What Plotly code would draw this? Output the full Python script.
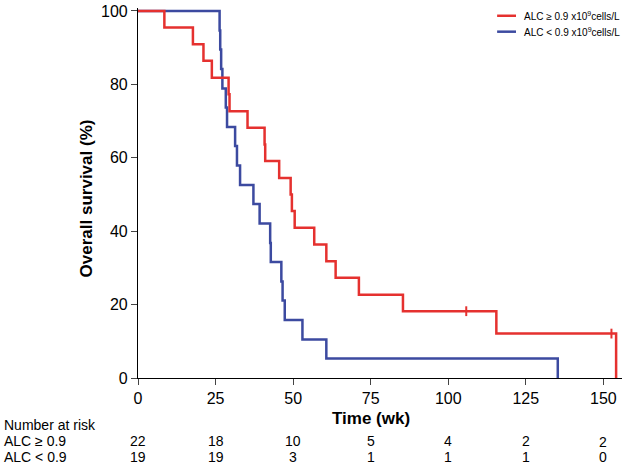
import plotly.graph_objects as go

# Kaplan-Meier steps (time in weeks, survival in %)
red_t = [0, 8.5, 17.7, 21.1, 23.8, 29.2, 29.5, 35.3, 40.8, 41.0, 45.5, 49.2, 49.6, 50.5,
         56.8, 60.7, 63.7, 71.2, 85.4, 115.5, 154.1]
red_s = [100, 95.5, 90.9, 86.4, 81.8, 77.3, 72.7, 68.2, 63.6, 59.1, 54.5, 50.0, 45.5, 40.9,
         36.4, 31.8, 27.3, 22.7, 18.2, 12.1, 0]
red_cens_t = [105.8, 152.6]
red_cens_s = [18.2, 12.1]

blue_t = [0, 26.3, 26.5, 26.8, 27.2, 28.3, 28.7, 31.3, 31.9, 32.9, 37.2, 39.2, 42.6, 42.8,
          46.2, 46.6, 47.3, 53.0, 60.7, 135.3]
blue_s = [100, 94.7, 89.5, 84.2, 78.9, 73.7, 68.4, 63.2, 57.9, 52.6, 47.4, 42.1, 36.8, 31.6,
          26.3, 21.1, 15.8, 10.5, 5.3, 0]

# Number at risk
risk_t = [0, 25, 50, 75, 100, 125, 150]
red_risk = [22, 18, 10, 5, 4, 2, 2]
blue_risk = [19, 19, 3, 1, 1, 1, 0]

red_name = "ALC \u2265 0.9 x10<sup>9</sup>cells/L"
blue_name = "ALC < 0.9 x10<sup>9</sup>cells/L"

RED = "#E5312F"
BLUE = "#3C4AA0"
FONT = "Arial, Liberation Sans, sans-serif"

fig = go.Figure()

fig.add_trace(go.Scatter(x=blue_t, y=blue_s, mode="lines", line_shape="hv",
                         line=dict(color=BLUE, width=2.5), name=blue_name))
fig.add_trace(go.Scatter(x=red_t, y=red_s, mode="lines", line_shape="hv",
                         line=dict(color=RED, width=2.5), name=red_name))
fig.add_trace(go.Scatter(x=red_cens_t, y=red_cens_s, mode="markers", showlegend=False,
                         marker=dict(symbol="line-ns", size=7,
                                     line=dict(color=RED, width=2))))

# legend drawn by hand (short line + label)
for col, name, ly in [(RED, red_name, 0.979), (BLUE, blue_name, 0.936)]:
    fig.add_shape(type="line", xref="paper", yref="paper", x0=0.742, x1=0.781,
                  y0=ly, y1=ly, line=dict(color=col, width=2.5))
    fig.add_annotation(x=0.793, y=ly, xref="paper", yref="paper", text=name,
                       showarrow=False, xanchor="left", yanchor="middle",
                       font=dict(size=10))

# axis titles
fig.add_annotation(x=-0.107, y=0.486, xref="paper", yref="paper",
                   text="<b>Overall survival (%)</b>", textangle=-90, showarrow=False,
                   xanchor="center", yanchor="middle", font=dict(size=17))
fig.add_annotation(x=75, y=-0.11, xref="x", yref="paper", text="<b>Time (wk)</b>",
                   showarrow=False, xanchor="center", yanchor="middle", font=dict(size=17))

# risk table
lab_x = -0.281
fig.add_annotation(x=lab_x, y=-0.127, xref="paper", yref="paper", text="Number at risk",
                   showarrow=False, xanchor="left", yanchor="middle", font=dict(size=14))
fig.add_annotation(x=lab_x, y=-0.170, xref="paper", yref="paper", text="ALC \u2265 0.9",
                   showarrow=False, xanchor="left", yanchor="middle", font=dict(size=14))
fig.add_annotation(x=lab_x, y=-0.213, xref="paper", yref="paper", text="ALC < 0.9",
                   showarrow=False, xanchor="left", yanchor="middle", font=dict(size=14))
for i, t in enumerate(risk_t):
    yr = -0.170 if i < len(risk_t) - 1 else -0.173
    fig.add_annotation(x=t, y=yr, xref="x", yref="paper", text=str(red_risk[i]),
                       showarrow=False, yanchor="middle", font=dict(size=14))
    fig.add_annotation(x=t, y=-0.213, xref="x", yref="paper", text=str(blue_risk[i]),
                       showarrow=False, yanchor="middle", font=dict(size=14))

fig.update_layout(
    width=631, height=466,
    margin=dict(l=138, r=9, t=8, b=88, autoexpand=False),
    plot_bgcolor="white", paper_bgcolor="white",
    font=dict(family=FONT, color="black", size=16),
    showlegend=False,
    xaxis=dict(range=[0, 156], tickvals=risk_t, ticks="outside", ticklen=6,
               showline=True, linecolor="black", linewidth=1.2, showgrid=False,
               zeroline=False, tickfont=dict(size=16), automargin=False),
    yaxis=dict(range=[0, 100.8], tickvals=[0, 20, 40, 60, 80, 100], ticks="outside",
               ticklen=6, showline=True, linecolor="black", linewidth=1.2,
               showgrid=False, zeroline=False, tickfont=dict(size=16), automargin=False),
)

fig.write_html("out.html", config={"displayModeBar": False},
               post_script="document.body.style.margin='0';")
